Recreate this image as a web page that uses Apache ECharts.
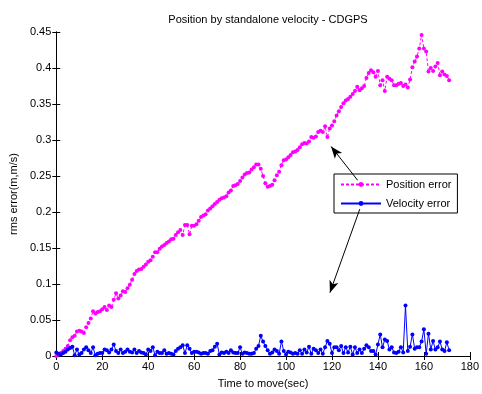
<!DOCTYPE html>
<html>
<head>
<meta charset="utf-8">
<script src="https://cdn.jsdelivr.net/npm/echarts@6/dist/echarts.min.js"></script>
<style>
html,body{margin:0;padding:0;background:#fff;}
#chart{width:482px;height:394px;}
</style>
</head>
<body>
<div id="chart"></div>
<script>
var titleText = 'Position by standalone velocity - CDGPS';
var xLabel = 'Time to move(sec)';
var yLabel = 'rms error(m,m/s)';
var seriesNames = ['Position error', 'Velocity error'];
var timeStart = 0;
var positionError = [
0.000,0.002,0.004,0.007,0.010,0.014,0.022,0.026,0.028,0.034,
0.035,0.034,0.032,0.040,0.046,0.052,0.062,0.059,0.061,0.062,
0.065,0.068,0.064,0.070,0.068,0.078,0.087,0.080,0.084,0.090,
0.089,0.094,0.099,0.106,0.114,0.118,0.120,0.121,0.124,0.127,
0.131,0.133,0.138,0.144,0.144,0.149,0.152,0.154,0.157,0.159,
0.162,0.163,0.168,0.172,0.175,0.168,0.182,0.182,0.169,0.181,
0.181,0.183,0.188,0.193,0.195,0.197,0.202,0.205,0.208,0.211,
0.214,0.217,0.219,0.220,0.222,0.227,0.230,0.236,0.237,0.239,
0.243,0.248,0.252,0.254,0.255,0.259,0.262,0.266,0.266,0.260,
0.250,0.240,0.235,0.236,0.238,0.244,0.251,0.256,0.265,0.272,
0.273,0.276,0.279,0.283,0.284,0.286,0.290,0.294,0.296,0.295,
0.298,0.304,0.303,0.305,0.311,0.313,0.311,0.319,0.304,0.316,
0.320,0.326,0.334,0.340,0.346,0.351,0.355,0.357,0.360,0.364,
0.368,0.374,0.369,0.372,0.375,0.386,0.393,0.397,0.394,0.388,
0.396,0.376,0.383,0.368,0.388,0.385,0.383,0.376,0.376,0.378,
0.379,0.375,0.377,0.373,0.384,0.401,0.409,0.416,0.427,0.446,
0.427,0.423,0.395,0.400,0.396,0.402,0.407,0.390,0.395,0.391,
0.389,0.383
];
var velocityError = [
0.005,0.003,0.002,0.004,0.006,0.009,0.011,0.013,0.001,0.009,
0.002,0.004,0.009,0.012,0.008,0.004,0.012,0.001,0.003,0.004,
0.004,0.009,0.008,0.005,0.009,0.016,0.007,0.004,0.009,0.004,
0.006,0.009,0.006,0.005,0.009,0.004,0.007,0.005,0.004,0.002,
0.009,0.007,0.012,0.001,0.006,0.004,0.004,0.008,0.003,0.004,
0.003,0.002,0.007,0.010,0.012,0.015,0.004,0.015,0.010,0.004,
0.006,0.006,0.005,0.003,0.004,0.004,0.003,0.007,0.008,0.013,
0.017,0.002,0.005,0.004,0.006,0.004,0.008,0.005,0.004,0.004,
0.012,0.003,0.005,0.004,0.003,0.003,0.004,0.010,0.014,0.028,
0.020,0.014,0.008,0.003,0.005,0.009,0.007,0.003,0.020,0.007,
0.002,0.006,0.005,0.003,0.004,0.003,0.008,0.003,0.009,0.005,
0.013,0.003,0.010,0.008,0.004,0.009,0.003,0.012,0.021,0.017,
0.004,0.012,0.012,0.008,0.014,0.004,0.012,0.005,0.013,0.002,
0.012,0.004,0.009,0.004,0.010,0.015,0.012,0.007,0.007,0.002,
0.016,0.030,0.012,0.023,0.021,0.009,0.012,0.005,0.004,0.006,
0.012,0.005,0.070,0.007,0.013,0.030,0.010,0.012,0.012,0.020,
0.037,0.003,0.031,0.009,0.021,0.009,0.012,0.020,0.009,0.007,
0.019,0.008
];
// annotation arrows [fromX, fromY, toX, toY] in data units
var arrowPos = [131.2, 0.244, 119.6, 0.291];
var arrowVel = [132.1, 0.204, 119.1, 0.088];

function pairs(arr){
  var out=[];
  for(var i=0;i<arr.length;i++) out.push([timeStart+i, arr[i]]);
  return out;
}
var font = 'Liberation Sans, Arial, sans-serif';
var chart = echarts.init(document.getElementById('chart'), null, {renderer:'canvas'});
var axisCommon = {
  axisLine:{show:true,lineStyle:{color:'#000',width:1}},
  axisTick:{show:true,inside:true,length:4,lineStyle:{color:'#000'}},
  splitLine:{show:false}
};
chart.setOption({
  animation:false,
  backgroundColor:'#fff',
  title:{text:titleText,left:263,top:9,textAlign:'center',
    textStyle:{fontFamily:font,fontSize:11,fontWeight:'normal',color:'#000'}},
  grid:{left:54,top:32,right:11,bottom:38,containLabel:false},
  legend:{
    orient:'vertical',left:334,top:174,width:129,
    backgroundColor:'#fff',borderColor:'#000',borderWidth:1,borderRadius:0,
    padding:[5,6,4,6],itemWidth:40,itemHeight:6,itemGap:8,
    textStyle:{fontFamily:font,fontSize:11,color:'#000'},
    data:seriesNames
  },
  xAxis:[
    Object.assign({type:'value',min:0,max:180,interval:20,position:'bottom',
      name:xLabel,nameLocation:'middle',nameGap:22,
      nameTextStyle:{fontFamily:font,fontSize:11,color:'#000'},
      axisLabel:{fontFamily:font,fontSize:11,color:'#000',margin:5}},axisCommon),
    Object.assign({type:'value',min:0,max:180,interval:20,position:'top',
      axisLabel:{show:false}},axisCommon)
  ],
  yAxis:[
    Object.assign({type:'value',min:0,max:0.45,interval:0.05,position:'left',
      name:yLabel,nameLocation:'middle',nameGap:36,nameRotate:90,
      nameTextStyle:{fontFamily:font,fontSize:11,color:'#000'},
      axisLabel:{fontFamily:font,fontSize:11,color:'#000',margin:5}},axisCommon),
    Object.assign({type:'value',min:0,max:0.45,interval:0.05,position:'right',
      axisLabel:{show:false}},axisCommon)
  ],
  series:[
    {name:seriesNames[0],type:'line',data:pairs(positionError),
     symbol:'circle',symbolSize:4,showAllSymbol:true,
     itemStyle:{color:'#ff00ff'},
     lineStyle:{color:'#ff00ff',width:1,type:[3,2]}},
    {name:seriesNames[1],type:'line',data:pairs(velocityError),
     symbol:'circle',symbolSize:4,showAllSymbol:true,
     itemStyle:{color:'#0000ff'},
     lineStyle:{color:'#0000ff',width:1},
     markLine:{silent:true,symbol:['none','arrow'],symbolSize:[7,12],
       label:{show:false},lineStyle:{color:'#000',width:1,type:'solid'},
       data:[
         [{coord:[arrowPos[0],arrowPos[1]]},{coord:[arrowPos[2],arrowPos[3]]}],
         [{coord:[arrowVel[0],arrowVel[1]]},{coord:[arrowVel[2],arrowVel[3]]}]
       ]}}
  ]
});
</script>
</body>
</html>
